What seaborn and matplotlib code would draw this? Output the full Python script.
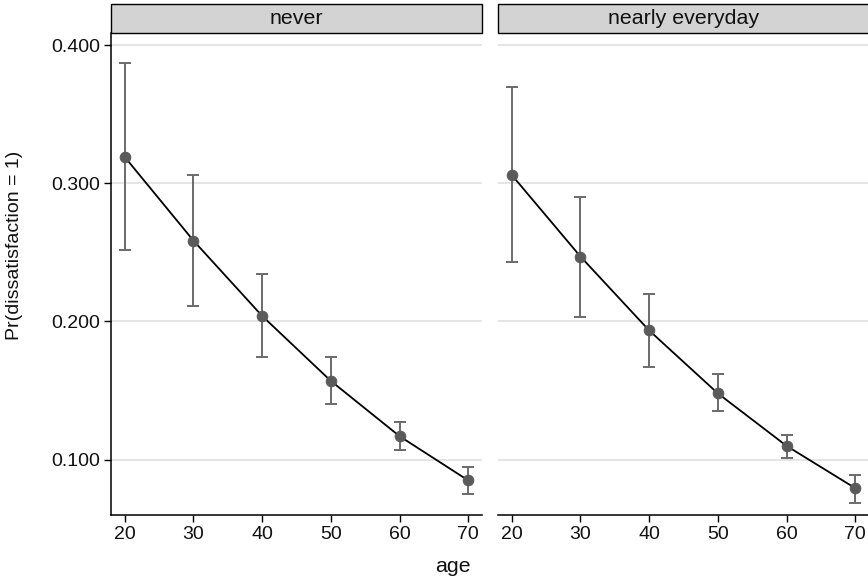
import matplotlib
matplotlib.use("Agg")
import matplotlib.pyplot as plt
from matplotlib.patches import Rectangle
import seaborn as sns
import pandas as pd
import numpy as np

panels = ["never", "nearly everyday"]
ages = [20, 30, 40, 50, 60, 70]
never_est = [0.319, 0.2585, 0.204, 0.157, 0.117, 0.085]
never_lo = [0.2515, 0.211, 0.174, 0.140, 0.107, 0.075]
never_hi = [0.387, 0.306, 0.234, 0.174, 0.127, 0.095]
daily_est = [0.306, 0.247, 0.1935, 0.148, 0.110, 0.0794]
daily_lo = [0.2433, 0.2036, 0.167, 0.135, 0.1015, 0.069]
daily_hi = [0.3695, 0.290, 0.220, 0.162, 0.118, 0.089]
yticks = [0.1, 0.2, 0.3, 0.4]
xticks = [20, 30, 40, 50, 60, 70]

df = pd.concat([
    pd.DataFrame({"panel": panels[0], "age": ages, "est": never_est, "lo": never_lo, "hi": never_hi}),
    pd.DataFrame({"panel": panels[1], "age": ages, "est": daily_est, "lo": daily_lo, "hi": daily_hi}),
])

sns.set_theme(style="white")
plt.rcParams['font.family'] = ['Liberation Sans', 'DejaVu Sans']

fig = plt.figure(figsize=(8.68, 5.8), dpi=100)
W, H = 868, 580
ax_specs = [(111, 482), (498, 869)]
top_px, bot_px = 33, 515
axes = []
for (x0, x1) in ax_specs:
    ax = fig.add_axes([x0 / W, 1 - bot_px / H, (x1 - x0) / W, (bot_px - top_px) / H])
    axes.append(ax)

for i, (ax, p) in enumerate(zip(axes, panels)):
    d = df[df["panel"] == p]
    for y in yticks:
        ax.axhline(y, color="#e0e0e0", lw=1.2, zorder=0)
    ax.errorbar(d["age"], d["est"], yerr=[d["est"] - d["lo"], d["hi"] - d["est"]],
                fmt="none", ecolor="#6a6a6a", elinewidth=1.4, capsize=4, capthick=1.4, zorder=2)
    sns.lineplot(data=d, x="age", y="est", ax=ax, color="black", lw=1.3, zorder=3)
    sns.scatterplot(data=d, x="age", y="est", ax=ax, color="#5a5a5a", s=60,
                    edgecolor="#5a5a5a", zorder=4)
    ax.set_xlim(18, 72)
    ax.set_ylim(0.060, 0.4087)
    ax.set_xticks(xticks)
    ax.set_xticklabels([str(v) for v in xticks], fontsize=14)
    ax.set_xlabel("")
    ax.set_ylabel("")
    for s in ["top", "right"]:
        ax.spines[s].set_visible(False)
    ax.spines["bottom"].set_color("black")
    ax.spines["bottom"].set_linewidth(1.1)
    ax.tick_params(axis="x", direction="out", length=5, width=1, color="black", pad=3,
                   bottom=True, labelcolor="#111111")
    if i == 0:
        ax.set_yticks(yticks)
        ax.set_yticklabels([f"{v:.3f}" for v in yticks], fontsize=14)
        ax.spines["left"].set_color("black")
        ax.spines["left"].set_linewidth(1.1)
        ax.tick_params(axis="y", direction="out", length=5, width=1, color="black", pad=3,
                       left=True, labelcolor="#111111")
    else:
        ax.set_yticks(yticks)
        ax.set_yticklabels([])
        ax.tick_params(axis="y", left=False)
        ax.spines["left"].set_visible(False)
    sh = 29 / (bot_px - top_px)
    rect = Rectangle((0, 1.0), 1.0, sh, transform=ax.transAxes, facecolor="#d3d3d3",
                     edgecolor="black", lw=1.0, clip_on=False, zorder=5)
    ax.add_patch(rect)
    ax.text(0.5, 1.0 + sh / 2, p, transform=ax.transAxes, ha="center", va="center",
            fontsize=15.4, color="#111111", zorder=6)

fig.text(15 / W, 1 - 245 / H, "Pr(dissatisfaction = 1)", rotation=90, ha="center", va="center",
         fontsize=14, color="#111111")
fig.text(453 / W, 1 - 566 / H, "age", ha="center", va="center", fontsize=15.4, color="#111111")

fig.savefig("out.png", dpi=100)
